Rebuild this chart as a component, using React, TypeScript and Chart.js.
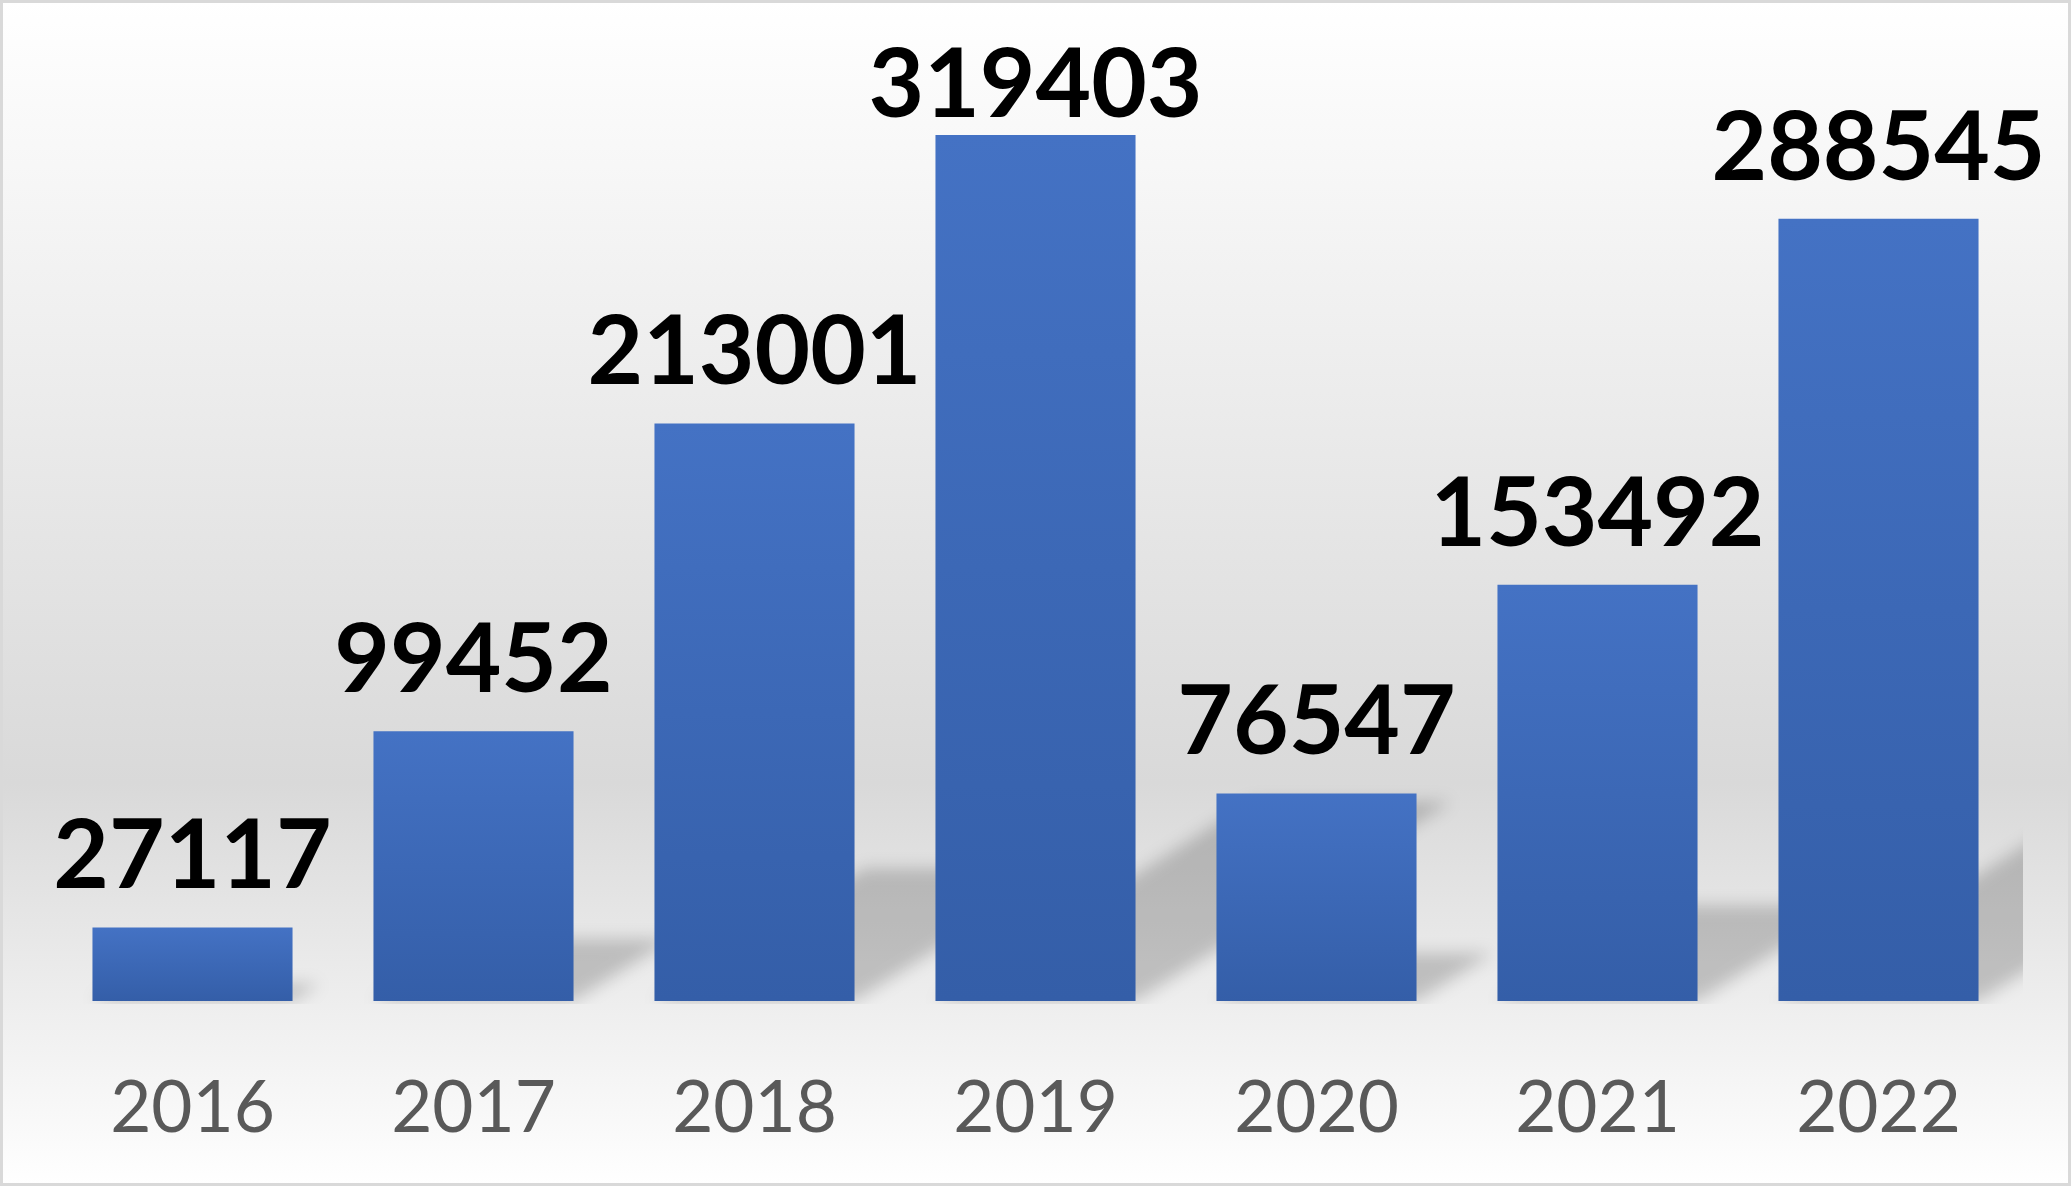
import React, { useEffect, useRef } from "react";
import { Chart, registerables } from "chart.js";

Chart.register(...registerables);

// ---- data ----
const years = ["2016", "2017", "2018", "2019", "2020", "2021", "2022"];
const values = [27117, 99452, 213001, 319403, 76547, 153492, 288545];
const valueLabels = values.map((v) => String(v));

const W = 2071;
const H = 1186;

export default function App() {
  const ref = useRef<HTMLCanvasElement>(null);

  useEffect(() => {
    const canvas = ref.current;
    if (!canvas) return;

    const bgPlugin = {
      id: "bgPlugin",
      beforeDraw(chart: any) {
        const { ctx, width, height } = chart;
        ctx.save();
        const g = ctx.createLinearGradient(0, 0, 0, height);
        g.addColorStop(0, "#ffffff");
        g.addColorStop(0.66, "#d9d9d9");
        g.addColorStop(1, "#ffffff");
        ctx.fillStyle = g;
        ctx.fillRect(0, 0, width, height);
        ctx.strokeStyle = "#d9d9d9";
        ctx.lineWidth = 3;
        ctx.strokeRect(1.5, 1.5, width - 3, height - 3);
        ctx.restore();
      },
    };

    const shadowPlugin = {
      id: "shadowPlugin",
      beforeDatasetsDraw(chart: any) {
        const { ctx, chartArea } = chart;
        const meta = chart.getDatasetMeta(0);
        ctx.save();
        ctx.beginPath();
        ctx.rect(chartArea.left - 10, 0, chartArea.right + 4 - (chartArea.left - 10), chartArea.bottom + 3);
        ctx.clip();
        ctx.filter = "blur(8px)";
        ctx.fillStyle = "rgba(0,0,0,0.19)";
        meta.data.forEach((bar: any) => {
          const { x, y, base, width } = bar.getProps(["x", "y", "base", "width"], true);
          const h = base - y;
          const left = x - width / 2;
          const right = x + width / 2;
          const sh = h * 0.23;
          const dx = h * 0.364;
          ctx.beginPath();
          ctx.moveTo(left, base);
          ctx.lineTo(right, base);
          ctx.lineTo(right + dx, base - sh);
          ctx.lineTo(left + dx, base - sh);
          ctx.closePath();
          ctx.fill();
        });
        ctx.restore();
      },
    };

    const labelPlugin = {
      id: "labelPlugin",
      afterDatasetsDraw(chart: any) {
        const { ctx, chartArea } = chart;
        const meta = chart.getDatasetMeta(0);
        ctx.save();
        ctx.font = "bold 96px Lato";
        ctx.fillStyle = "#000000";
        ctx.textAlign = "center";
        ctx.textBaseline = "alphabetic";
        meta.data.forEach((bar: any, i: number) => {
          const baseline = Math.max(bar.y - 39, chartArea.top + 65);
          ctx.fillText(valueLabels[i], bar.x, baseline);
        });
        ctx.restore();
      },
    };

    const chart = new Chart(canvas, {
      type: "bar",
      data: {
        labels: years,
        datasets: [
          {
            data: values,
            borderWidth: 0,
            barPercentage: 0.712,
            categoryPercentage: 1,
            backgroundColor: (c: any) => {
              const ch = c.chart;
              const ys = ch.scales && ch.scales.y;
              if (!ys || c.type !== "data") return "#4472c4";
              const top = ys.getPixelForValue(c.raw as number);
              const base = ys.getPixelForValue(0);
              if (!isFinite(top) || !isFinite(base) || top === base) return "#4472c4";
              const g = ch.ctx.createLinearGradient(0, top, 0, base);
              g.addColorStop(0, "#4472c4");
              g.addColorStop(1, "#345ea8");
              return g;
            },
          },
        ],
      },
      options: {
        responsive: false,
        animation: false,
        devicePixelRatio: 1,
        layout: { padding: { left: 52, right: 52, top: 52, bottom: 0 } },
        plugins: {
          legend: { display: false },
          tooltip: { enabled: false },
        },
        scales: {
          x: {
            grid: { display: false, drawTicks: false },
            border: { display: false },
            ticks: {
              color: "#595959",
              font: { family: "Lato", size: 71 },
              padding: 66,
            },
            afterFit(scale: any) {
              scale.height = 185;
            },
          },
          y: { display: false, min: 0, max: 350000 },
        },
      },
      plugins: [bgPlugin, shadowPlugin, labelPlugin],
    });

    return () => chart.destroy();
  }, []);

  return (
    <div style={{ position: "fixed", left: 0, top: 0, width: W, height: H }}>
      <canvas ref={ref} width={W} height={H} style={{ display: "block", width: W, height: H }} />
    </div>
  );
}
